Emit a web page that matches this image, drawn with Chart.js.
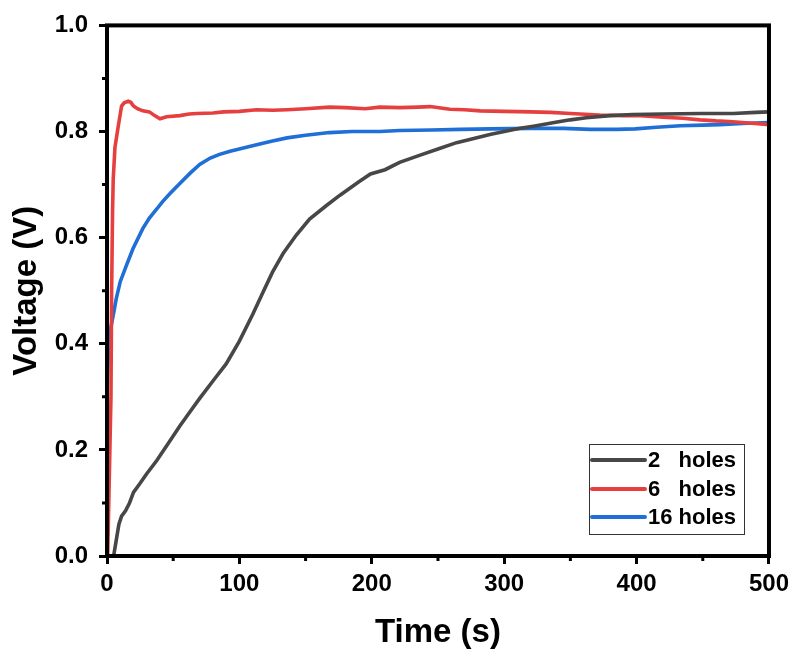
<!DOCTYPE html>
<html>
<head>
<meta charset="utf-8">
<script src="https://cdn.jsdelivr.net/npm/chart.js@4"></script>
<style>
html,body{margin:0;padding:0;background:#fff;}
#wrap{width:795px;height:657px;}
</style>
</head>
<body>
<div id="wrap"><canvas id="c" width="795" height="657"></canvas></div>
<script>
const seriesNames = ["2   holes", "6   holes", "16 holes"];
const seriesColors = ["#474747", "#e5403f", "#1f6fd6"];

const holes2 = [[5,0],[7,0.03],[9,0.06],[11,0.075],[14,0.085],[17,0.1],[20,0.12],[25,0.137],[30,0.155],[37.6,0.18],[47.6,0.217],[55,0.245],[62.7,0.272],[70,0.297],[81.6,0.335],[90,0.362],[100,0.405],[110,0.455],[118,0.498],[125,0.535],[133,0.57],[143,0.605],[153,0.635],[166,0.661],[176,0.68],[190,0.705],[199,0.72],[210,0.728],[221,0.742],[236,0.755],[250,0.767],[264,0.779],[274,0.785],[290,0.795],[312,0.806],[322,0.81],[340,0.818],[350,0.822],[362,0.826],[380,0.83],[397,0.832],[420,0.833],[448,0.834],[473,0.834],[490,0.836],[500,0.837]];

const holes6 = [[0.5,0],[3,0.3],[3.5,0.5],[4.2,0.65],[4.7,0.71],[6,0.77],[8.5,0.81],[11,0.848],[13,0.854],[16,0.857],[18,0.855],[20,0.848],[23,0.843],[27,0.839],[32,0.837],[36,0.83],[40,0.824],[45,0.828],[55,0.83],[62,0.833],[68,0.834],[80,0.835],[88,0.837],[100,0.838],[113,0.841],[125,0.84],[136,0.841],[150,0.843],[168,0.846],[180,0.845],[195,0.843],[206,0.846],[221,0.845],[235,0.846],[244,0.847],[259,0.842],[270,0.841],[282,0.839],[300,0.838],[320,0.837],[335,0.836],[350,0.834],[372,0.831],[390,0.83],[403,0.83],[420,0.827],[435,0.825],[448,0.822],[460,0.82],[470,0.819],[485,0.816],[500,0.813]];

const holes16 = [[0,0.31],[1,0.38],[2.3,0.423],[4.8,0.455],[7,0.485],[10,0.517],[14.9,0.549],[19.6,0.579],[27,0.617],[32,0.637],[37.6,0.654],[42,0.668],[47.6,0.683],[55,0.702],[63,0.722],[70,0.738],[78,0.75],[85,0.757],[93,0.763],[103,0.769],[113,0.775],[125,0.782],[136,0.788],[150,0.793],[168,0.798],[185,0.8],[206,0.8],[221,0.802],[245,0.803],[267,0.804],[290,0.805],[320,0.806],[345,0.806],[365,0.804],[385,0.804],[399,0.805],[415,0.808],[433,0.811],[450,0.812],[463,0.813],[480,0.815],[500,0.817]];

const xTicksMajor = [0,100,200,300,400,500];
const xTicksMinor = [50,150,250,350,450];
const yTicksMajor = [0,0.2,0.4,0.6,0.8,1.0];
const yTicksMinor = [0.1,0.3,0.5,0.7,0.9];

const allSeries = [holes2, holes6, holes16];
const FONT = "'Liberation Sans', Arial, sans-serif";

const framePlugin = {
  id: 'frame',
  afterDraw(chart) {
    const {ctx, chartArea: a, scales} = chart;
    ctx.save();
    ctx.strokeStyle = '#000';
    ctx.lineWidth = 3;
    ctx.beginPath();
    xTicksMinor.forEach(v => {
      const px = scales.x.getPixelForValue(v);
      ctx.moveTo(px, a.bottom); ctx.lineTo(px, a.bottom + 5);
    });
    yTicksMinor.forEach(v => {
      const py = scales.y.getPixelForValue(v);
      ctx.moveTo(a.left, py); ctx.lineTo(a.left - 5, py);
    });
    ctx.stroke();
    ctx.lineWidth = 4;
    ctx.strokeRect(a.left, a.top, a.right - a.left, a.bottom - a.top);
    // legend
    const bx = 589, by = 444, bw = 155, bh = 90;
    ctx.fillStyle = '#fff';
    ctx.fillRect(bx, by, bw, bh);
    ctx.lineWidth = 1;
    ctx.strokeStyle = '#333';
    ctx.strokeRect(bx + 0.5, by + 0.5, bw, bh);
    ctx.font = "bold 22px " + FONT;
    ctx.textBaseline = 'middle';
    ctx.textAlign = 'left';
    const rows = [460, 489, 517];
    chart.data.datasets.forEach((ds, i) => {
      ctx.strokeStyle = ds.borderColor;
      ctx.lineWidth = 4;
      ctx.lineCap = 'round';
      ctx.beginPath();
      ctx.moveTo(592, rows[i]); ctx.lineTo(645, rows[i]);
      ctx.stroke();
      ctx.fillStyle = '#000';
      ctx.fillText(ds.label, 648, rows[i] + 1);
    });
    ctx.restore();
  }
};

new Chart(document.getElementById('c'), {
  type: 'line',
  data: {
    datasets: allSeries.map((s, i) => ({
      label: seriesNames[i],
      data: s.map(p => ({x: p[0], y: p[1]})),
      borderColor: seriesColors[i],
      backgroundColor: seriesColors[i],
      borderWidth: 3.6,
      pointRadius: 0,
      tension: 0,
      fill: false
    }))
  },
  options: {
    responsive: false,
    animation: false,
    devicePixelRatio: 1,
    layout: {padding: {top: 22, right: 26, left: 0, bottom: 0}},
    plugins: {legend: {display: false}, tooltip: {enabled: false}},
    scales: {
      x: {
        type: 'linear', min: 0, max: 500,
        afterFit(s) { s.height = 101; },
        afterBuildTicks(s) { s.ticks = xTicksMajor.map(v => ({value: v})); },
        grid: {display: true, drawOnChartArea: false, drawTicks: true, tickLength: 8, tickWidth: 3, tickColor: '#000'},
        border: {display: false},
        ticks: {color: '#000', padding: 6, maxRotation: 0, font: {family: FONT, size: 24, weight: 'bold'}},
        title: {display: true, text: 'Time (s)', color: '#000', padding: {top: 0, bottom: 4}, font: {family: FONT, size: 33, weight: 'bold'}}
      },
      y: {
        type: 'linear', min: 0, max: 1,
        afterFit(s) { s.width = 107; },
        afterBuildTicks(s) { s.ticks = yTicksMajor.map(v => ({value: v})); },
        grid: {display: true, drawOnChartArea: false, drawTicks: true, tickLength: 8, tickWidth: 3, tickColor: '#000'},
        border: {display: false},
        ticks: {color: '#000', padding: 11, font: {family: FONT, size: 24, weight: 'bold'}, callback: v => v.toFixed(1)},
        title: {display: true, text: 'Voltage (V)', color: '#000', padding: {top: 7, bottom: 0}, font: {family: FONT, size: 33, weight: 'bold'}}
      }
    }
  },
  plugins: [framePlugin]
});
</script>
</body>
</html>
